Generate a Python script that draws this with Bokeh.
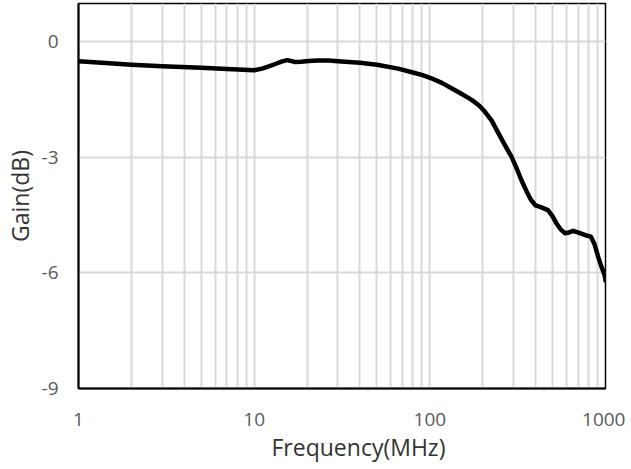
from bokeh.plotting import figure
from bokeh.models import Range1d, FixedTicker, Title
from bokeh.embed import file_html
from bokeh.resources import INLINE

# Data
freq_mhz = [1, 1.5, 2, 3, 5, 7, 10, 11.1, 12, 13.2, 14.3, 15.4, 16.2, 17.1, 18.5, 20.4, 23, 26.5,
            30, 40, 50, 66, 80, 91, 102, 117, 133, 152, 173, 190, 206, 225, 246, 268, 292, 312,
            332, 355, 377, 400, 432, 470, 498, 525, 555, 587, 620, 655, 695, 734, 780, 826, 865,
            908, 950, 988, 1000]
gain_db = [-0.51, -0.56, -0.60, -0.64, -0.68, -0.71, -0.74, -0.70, -0.65, -0.58, -0.52, -0.48,
           -0.50, -0.53, -0.52, -0.50, -0.49, -0.49, -0.51, -0.55, -0.60, -0.70, -0.80, -0.87,
           -0.95, -1.07, -1.21, -1.36, -1.51, -1.65, -1.82, -2.05, -2.38, -2.69, -2.99, -3.29,
           -3.59, -3.88, -4.11, -4.25, -4.30, -4.37, -4.52, -4.71, -4.87, -4.97, -4.95, -4.91,
           -4.95, -4.99, -5.03, -5.06, -5.25, -5.58, -5.85, -6.05, -6.20]

x_major_ticks = [1, 10, 100, 1000]
x_tick_labels = ["1", "10", "100", "1000"]
x_minor_ticks = [2, 3, 4, 5, 6, 7, 8, 9, 20, 30, 40, 50, 60, 70, 80, 90,
                 200, 300, 400, 500, 600, 700, 800, 900]
y_ticks = [-9, -6, -3, 0]
y_tick_labels = ["-9", "-6", "-3", "0"]

FONT = "Open Sans"
TICK_COLOR = "#595959"
TITLE_COLOR = "#333333"
GRID_COLOR = "#d9d9d9"

p = figure(width=625, height=469, x_axis_type="log",
           x_range=Range1d(1, 1000), y_range=Range1d(-9, 0.99),
           output_backend="svg", toolbar_location=None,
           min_border_left=75, min_border_right=20, min_border_top=3, min_border_bottom=81)

p.line(freq_mhz, gain_db, line_color="black", line_width=4.5, line_join="round", line_cap="round")

p.xaxis.ticker = FixedTicker(ticks=x_major_ticks, minor_ticks=x_minor_ticks)
p.xaxis.major_label_overrides = {t: s for t, s in zip(x_major_ticks, x_tick_labels)}
p.yaxis.ticker = FixedTicker(ticks=y_ticks)
p.yaxis.major_label_overrides = {t: s for t, s in zip(y_ticks, y_tick_labels)}

for ax in (p.xaxis, p.yaxis):
    ax.major_tick_line_color = None
    ax.minor_tick_line_color = None
    ax.axis_line_color = "black"
    ax.axis_line_width = 2
    ax.major_label_text_font = FONT
    ax.major_label_text_font_size = "19px"
    ax.major_label_text_color = TICK_COLOR
    ax.axis_label_text_font = FONT
    ax.axis_label_text_font_size = "23px"
    ax.axis_label_text_font_style = "normal"
    ax.axis_label_text_color = TITLE_COLOR

p.yaxis.axis_label = "Gain(dB)"
p.xaxis.major_label_standoff = 18
p.yaxis.major_label_standoff = 14
p.yaxis.axis_label_standoff = 3

x_title = Title(text="Frequency(MHz)", align="left", offset=193, standoff=0,
                text_font=FONT, text_font_size="23px", text_font_style="normal",
                text_color=TITLE_COLOR)
p.add_layout(x_title, "below")

p.xgrid.grid_line_color = GRID_COLOR
p.xgrid.grid_line_width = 2
p.xgrid.minor_grid_line_color = GRID_COLOR
p.xgrid.minor_grid_line_width = 2
p.ygrid.grid_line_color = GRID_COLOR
p.ygrid.grid_line_width = 2

p.outline_line_color = "black"
p.outline_line_width = 1.5
p.background_fill_color = "white"
p.border_fill_color = "white"

open("out.html", "w").write(file_html(p, INLINE))
